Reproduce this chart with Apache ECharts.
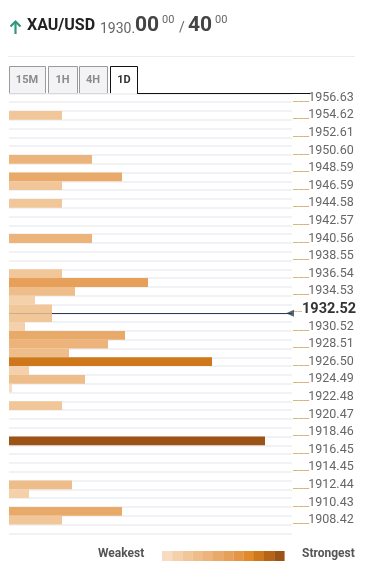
<!DOCTYPE html>
<html><head><meta charset="utf-8">
<script src="https://cdn.jsdelivr.net/npm/echarts@6/dist/echarts.min.js"></script>
<style>html,body{margin:0;padding:0;background:#fff}#c{width:374px;height:582px}</style>
</head><body><div id="c"></div>
<script>
// Price levels, top to bottom (one row per level)
const levels = ['1956.63','1955.63','1954.62','1953.62','1952.61','1951.61','1950.60','1949.60','1948.59','1947.59',
'1946.59','1945.58','1944.58','1943.57','1942.57','1941.57','1940.56','1939.56','1938.55','1937.55',
'1936.54','1935.54','1934.53','1933.53','1932.52','1931.52','1930.52','1929.51','1928.51','1927.50',
'1926.50','1925.50','1924.49','1923.49','1922.48','1921.48','1920.47','1919.47','1918.46','1917.46',
'1916.45','1915.45','1914.45','1913.44','1912.44','1911.44','1910.43','1909.43','1908.42','1907.42'];
// Confluence strength per level
const strength = [0,0,53,0,0,0,0,83,0,113,
53,0,53,0,0,0,83,0,0,0,
53,139,66,26,43,43,16,116,99,60,
203,20,76,3,0,53,0,0,0,256,
0,0,0,0,63,20,0,113,53,0];
const currentPrice = 1932.02;
const currentLabel = '1932.52';
const strengthMax = 283;
const palette = ['#f8dcc2','#f4d0ab','#f1c699','#eebd89','#ecb47a','#e9aa69','#e7a059','#e49646','#e08a2c','#cf771b','#b6641a','#9b5416'];

function colorFor(v){ return palette[Math.max(0,Math.min(11,Math.round(v/256*11)))]; }

const chart = echarts.init(document.getElementById('c'));
const FONT = 'Roboto';
const graphics = [
  {type:'polyline', shape:{points:[[10.5,26.5],[15.5,21.5],[20.5,26.5]]}, style:{stroke:'#2e9a7c', lineWidth:2.2, fill:null}},
  {type:'line', shape:{x1:15.5,y1:22,x2:15.5,y2:34}, style:{stroke:'#2e9a7c', lineWidth:2.2}},
  {type:'text', left:27, top:18, style:{text:'XAU/USD', fill:'#222', font:'bold 16px '+FONT}},
  {type:'text', left:100, top:22, style:{text:'1930.', fill:'#666', font:'14px '+FONT}},
  {type:'text', left:135, top:15, style:{text:'00', fill:'#444', font:'bold 21px '+FONT}},
  {type:'text', left:162, top:15, style:{text:'00', fill:'#666', font:'11px '+FONT}},
  {type:'text', left:179, top:21, style:{text:'/', fill:'#666', font:'14px '+FONT}},
  {type:'text', left:188, top:15, style:{text:'40', fill:'#444', font:'bold 21px '+FONT}},
  {type:'text', left:215, top:15, style:{text:'00', fill:'#666', font:'11px '+FONT}},
  {type:'line', shape:{x1:8,y1:56.5,x2:355,y2:56.5}, style:{stroke:'#ececec', lineWidth:1}},
  {type:'line', shape:{x1:137,y1:93.5,x2:310,y2:93.5}, style:{stroke:'#111', lineWidth:1}, z:10},
  {type:'text', left:98, top:548, style:{text:'Weakest', fill:'#555', font:'bold 12px '+FONT}},
  {type:'text', left:302, top:548, style:{text:'Strongest', fill:'#555', font:'bold 12px '+FONT}}
];
const tabs = [['15M',9,45],['1H',48,77],['4H',79,107]];
tabs.forEach(t=>{
  graphics.push({type:'rect', shape:{x:t[1]+0.5,y:66.5,width:t[2]-t[1],height:27}, style:{fill:'#f3f3f6', stroke:'#9a9a9a', lineWidth:1}});
  graphics.push({type:'text', x:(t[1]+t[2])/2, y:80, style:{text:t[0], fill:'#8a8a8a', font:'bold 11px '+FONT, textAlign:'center', textVerticalAlign:'middle'}});
});
graphics.push({type:'polyline', shape:{points:[[110.5,93.5],[110.5,66.5],[137.5,66.5],[137.5,93.5]]}, style:{stroke:'#111', lineWidth:1, fill:null}});
graphics.push({type:'text', x:124, y:80, style:{text:'1D', fill:'#333', font:'bold 11px '+FONT, textAlign:'center', textVerticalAlign:'middle'}});
palette.forEach((c,i)=>{
  graphics.push({type:'rect', shape:{x:162+i*10.2,y:551,width:10.4,height:10}, style:{fill:c}});
});

chart.setOption({
  animation:false,
  grid:{left:9, right:82, top:93.3, height:440},
  xAxis:{type:'value', min:0, max:strengthMax, show:false},
  yAxis:[{
    type:'category', data:levels, inverse:true, position:'right',
    axisLine:{show:false}, axisTick:{show:false},
    splitLine:{show:true, interval:0, lineStyle:{color:'#eceef3', width:1.5}},
    axisLabel:{interval:1, margin:1, align:'left',
      formatter:function(v){ return v===currentLabel ? '{s|__}{b|'+v+'}' : '{u|___}{v|'+v+'}'; },
      rich:{
        u:{color:'#d6b479', fontSize:12, fontFamily:FONT, padding:[0,-1,0,0]},
        s:{color:'#d6b479', fontSize:10, fontFamily:FONT},
        v:{color:'#666', fontSize:12.5, fontFamily:FONT},
        b:{color:'#333', fontSize:14.5, fontWeight:'bold', fontFamily:FONT}
      }}
  },{
    type:'value', min:1906.9175, max:1957.1325, show:false
  }],
  graphic:graphics,
  series:[
    {type:'bar', yAxisIndex:0, barWidth:'100%', barGap:'-100%', z:3,
     data:strength.map(v=>({value:v, itemStyle:{color:colorFor(v)}}))},
    {type:'scatter', yAxisIndex:1, z:4, symbol:'triangle', symbolRotate:90, symbolSize:[7,8], symbolOffset:[-2,0],
     itemStyle:{color:'#2c3e50'}, data:[[strengthMax, currentPrice]],
     markLine:{silent:true, symbol:['none','none'], label:{show:false}, lineStyle:{color:'#2c3e50', width:1, type:'solid'},
       data:[{yAxis:currentPrice}], z:2}}
  ]
});
</script></body></html>
